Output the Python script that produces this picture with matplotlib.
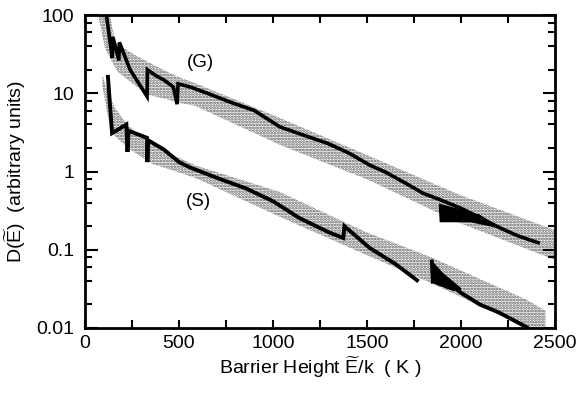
import numpy as np
import matplotlib
matplotlib.use("Agg")
import matplotlib.pyplot as plt
from matplotlib.ticker import FixedLocator, FuncFormatter

plt.rcParams['font.family'] = ['Liberation Sans', 'DejaVu Sans']
plt.rcParams['mathtext.fontset'] = 'custom'
plt.rcParams['mathtext.rm'] = 'Liberation Sans'
plt.rcParams['mathtext.it'] = 'Liberation Sans'
plt.rcParams['hatch.linewidth'] = 1.3
plt.rcParams['hatch.color'] = '#5a5a5a'

# ---- data (log10 of D) ----
G_band_E = [70, 106, 133, 160, 176, 266, 335, 441, 495, 585, 1037, 1500, 1995, 2500]
G_band_hi = [2.0, 2.0, 2.0, 1.655, 1.62, 1.49, 1.40, 1.27, 1.21, 1.13, 0.684, 0.21, -0.30, -0.75]
G_band_lo = [2.0, 1.58, 1.45, 1.33, 1.27, 1.10, 0.98, 0.92, 0.88, 0.84, 0.34, -0.10, -0.66, -1.13]

S_band_E = [92, 133, 160, 229, 356, 585, 1037, 1490, 1835, 2350, 2450]
S_band_hi = [1.23, 0.95, 0.81, 0.59, 0.34, 0.08, -0.262, -0.77, -1.09, -1.64, -1.78]
S_band_lo = [1.10, 0.56, 0.45, 0.30, 0.10, -0.08, -0.58, -1.06, -1.42, -1.99, -2.15]

G_line_E = [115, 145, 148, 180, 183, 240, 330, 332, 380, 420, 470, 490, 495, 560, 650, 780,
            900, 1037, 1144, 1290, 1400, 1516, 1600, 1713, 1800, 1888, 2000, 2100, 2207, 2300, 2410]
G_line_v = [1.98, 1.45, 1.72, 1.42, 1.65, 1.30, 0.96, 1.30, 1.22, 1.17, 1.08, 0.86, 1.12, 1.08, 1.00, 0.88,
            0.78, 0.57, 0.48, 0.36, 0.24, 0.08, -0.01, -0.16, -0.28, -0.36, -0.47, -0.59, -0.72, -0.82, -0.91]

G_blob_E = [1885, 1890, 2050, 2190, 2100, 1885]
G_blob_v = [-0.42, -0.64, -0.64, -0.71, -0.56, -0.42]

S_line_E = [122, 144, 220, 226, 232, 330, 332, 335, 420, 500, 560, 700, 860, 1000, 1144, 1300, 1374,
            1380, 1516, 1650, 1766, np.nan, 1845, 1850, 1900, 2000, 2100, 2200, 2350, 2380]
S_line_v = [1.21, 0.49, 0.60, 0.25, 0.52, 0.43, 0.12, 0.40, 0.28, 0.12, 0.05, -0.08, -0.22, -0.38, -0.60, -0.78, -0.85,
            -0.70, -0.98, -1.18, -1.39, np.nan, -1.15, -1.40, -1.35, -1.55, -1.70, -1.80, -1.99, -2.05]

S_blob_E = [1845, 1850, 1960, 2000, 1900, 1845]
S_blob_v = [-1.15, -1.42, -1.52, -1.50, -1.30, -1.15]

x_ticks = [0, 500, 1000, 1500, 2000, 2500]
y_ticks = [0.01, 0.1, 1, 10, 100]
y_tick_labels = ['0.01', '0.1', '1', '10', '100']

fig = plt.figure(figsize=(5.79, 3.93), dpi=100)
ax = fig.add_axes([85/579, 1-328/393, 470/579, 313/393])
ax.set_yscale('log')
ax.set_xlim(0, 2500)
ax.set_ylim(0.01, 100)

def p(v):
    return 10 ** np.asarray(v, dtype=float)

ax.fill_between(G_band_E, p(G_band_lo), p(G_band_hi), facecolor='white', hatch='......',
                edgecolor='#5a5a5a', linewidth=0)
ax.fill_between(S_band_E, p(S_band_lo), p(S_band_hi), facecolor='white', hatch='......',
                edgecolor='#5a5a5a', linewidth=0)

ax.plot(G_line_E, p(G_line_v), color='black', lw=2.6, solid_joinstyle='miter')
ax.fill(G_blob_E, p(G_blob_v), color='black', lw=1)
ax.plot(S_line_E, p(S_line_v), color='black', lw=2.8, solid_joinstyle='miter')
ax.fill(S_blob_E, p(S_blob_v), color='black', lw=1)

ax.text(612, 25, '(G)', fontsize=13.5, ha='center', va='center')
ax.text(601, 0.41, '(S)', fontsize=13.5, ha='center', va='center')

ax.xaxis.set_major_locator(FixedLocator(x_ticks))
ax.xaxis.set_minor_locator(FixedLocator([250, 750, 1250, 1750, 2250]))
ax.yaxis.set_major_locator(FixedLocator(y_ticks))
minors = [m * 10.0 ** d for d in range(-2, 2) for m in (2, 4, 6, 8)]
ax.yaxis.set_minor_locator(FixedLocator(minors))
ax.yaxis.set_major_formatter(FuncFormatter(lambda v, pos: y_tick_labels[y_ticks.index(v)] if v in y_ticks else ''))
ax.yaxis.set_minor_formatter(FuncFormatter(lambda v, pos: ''))

ax.tick_params(which='both', direction='in', top=True, right=True, width=1.5, labelsize=14)
ax.tick_params(axis='x', which='both', length=6, pad=5)
ax.tick_params(axis='y', which='major', length=9, pad=8)
ax.tick_params(axis='y', which='minor', length=5)
for s in ax.spines.values():
    s.set_linewidth(2)

ax.set_xlabel(r'Barrier Height $\widetilde{\mathrm{E}}$/k  ( K )', fontsize=14, labelpad=2)
ax.set_ylabel(r'D($\widetilde{\mathrm{E}}$)  (arbitrary units)', fontsize=14, labelpad=6)

fig.savefig('out.png', dpi=100)
